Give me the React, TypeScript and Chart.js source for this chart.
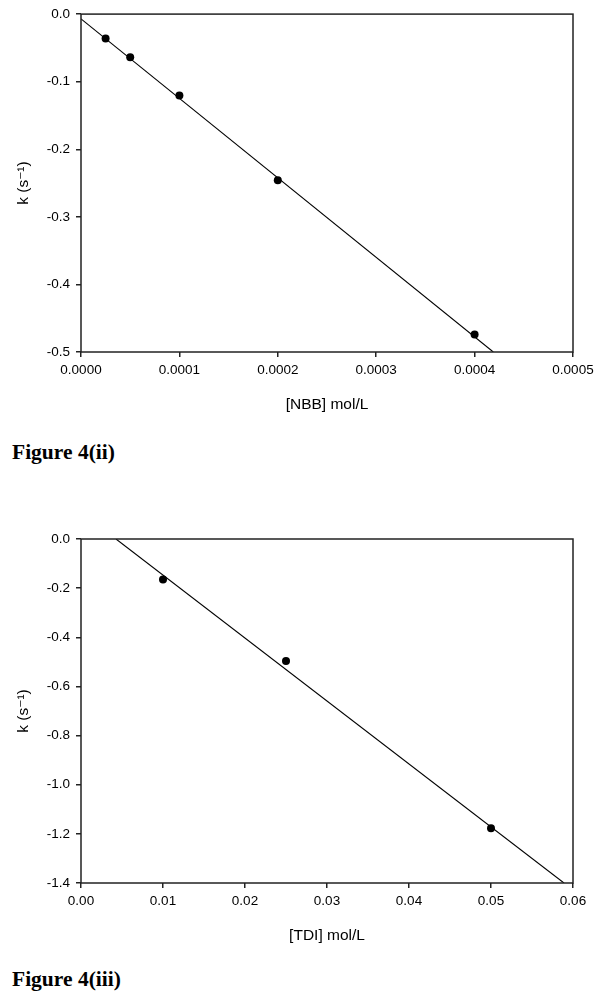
import React, { useEffect, useRef } from "react";
import { Chart, registerables } from "chart.js";

Chart.register(...registerables);

// ---- Figure 4(ii) data ----
const nbbConc = [0.000025, 0.00005, 0.0001, 0.0002, 0.0004];
const nbbK = [-0.036, -0.064, -0.1205, -0.246, -0.474];
const nbbFitConc = [0, 0.000419];
const nbbFitK = [-0.007, -0.5];
const nbbXTicks = [0, 0.0001, 0.0002, 0.0003, 0.0004, 0.0005];
const nbbYTicks = [0, -0.1, -0.2, -0.3, -0.4, -0.5];

// ---- Figure 4(iii) data ----
const tdiConc = [0.01, 0.025, 0.05];
const tdiK = [-0.165, -0.497, -1.177];
const tdiFitConc = [0.00427, 0.0589];
const tdiFitK = [0, -1.4];
const tdiXTicks = [0, 0.01, 0.02, 0.03, 0.04, 0.05, 0.06];
const tdiYTicks = [0, -0.2, -0.4, -0.6, -0.8, -1.0, -1.2, -1.4];

const SANS = "'Liberation Sans', Arial, 'DejaVu Sans', sans-serif";

const boxPlugin = {
  id: "boxFrame",
  afterDraw(chart: any) {
    const { ctx, chartArea } = chart;
    const { left, top, right, bottom } = chartArea;
    ctx.save();
    ctx.strokeStyle = "#222";
    ctx.lineWidth = 1.5;
    ctx.strokeRect(left, top, right - left, bottom - top);
    ctx.restore();
  },
};

type PanelProps = {
  top: number;
  height: number;
  padTop: number;
  xAxisHeight: number;
  xTitlePad: number;
  xs: number[];
  ys: number[];
  fitX: number[];
  fitY: number[];
  xTicks: number[];
  yTicks: number[];
  xDec: number;
  yDec: number;
  xTitle: string;
};

function Panel(p: PanelProps) {
  const ref = useRef<HTMLCanvasElement | null>(null);
  useEffect(() => {
    if (!ref.current) return;
    const tickFont = { family: SANS, size: 13.5 };
    const titleFont = { family: SANS, size: 15.5 };
    const grid = {
      drawOnChartArea: false,
      drawTicks: true,
      tickLength: 5,
      color: "#222",
      lineWidth: 1.5,
    };
    const chart = new Chart(ref.current, {
      type: "scatter",
      data: {
        datasets: [
          {
            type: "line",
            data: p.fitX.map((x, i) => ({ x, y: p.fitY[i] })),
            borderColor: "#000",
            borderWidth: 1.1,
            pointRadius: 0,
            fill: false,
            showLine: true,
          } as any,
          {
            type: "scatter",
            data: p.xs.map((x, i) => ({ x, y: p.ys[i] })),
            backgroundColor: "#000",
            borderColor: "#000",
            pointRadius: 4,
            pointBorderWidth: 0,
          },
        ],
      },
      options: {
        animation: false,
        responsive: false,
        maintainAspectRatio: false,
        layout: { padding: { top: p.padTop, right: 27, left: 0, bottom: 0 } },
        plugins: { legend: { display: false }, tooltip: { enabled: false } },
        scales: {
          x: {
            type: "linear",
            min: p.xTicks[0],
            max: p.xTicks[p.xTicks.length - 1],
            afterFit(s: any) {
              s.height = p.xAxisHeight;
            },
            afterBuildTicks(s: any) {
              s.ticks = p.xTicks.map((v) => ({ value: v }));
            },
            ticks: {
              font: tickFont,
              color: "#000",
              padding: 5,
              maxRotation: 0,
              autoSkip: false,
              callback: (v: any) => Number(v).toFixed(p.xDec),
            },
            grid,
            border: { display: false },
            title: {
              display: true,
              text: p.xTitle,
              font: titleFont,
              color: "#000",
              padding: { top: 0, bottom: p.xTitlePad },
            },
          },
          y: {
            type: "linear",
            min: p.yTicks[p.yTicks.length - 1],
            max: p.yTicks[0],
            afterFit(s: any) {
              s.width = 81;
            },
            afterBuildTicks(s: any) {
              s.ticks = p.yTicks.slice().reverse().map((v) => ({ value: v }));
            },
            ticks: {
              font: tickFont,
              color: "#000",
              padding: 6,
              autoSkip: false,
              callback: (v: any) => Number(v).toFixed(p.yDec),
            },
            grid,
            border: { display: false },
            title: {
              display: true,
              text: "k (s\u207B\u00B9)",
              font: titleFont,
              color: "#000",
              padding: { top: 14, bottom: 0 },
            },
          },
        },
      } as any,
      plugins: [boxPlugin],
    });
    return () => chart.destroy();
  }, []);
  return (
    <canvas
      ref={ref}
      width={600}
      height={p.height}
      style={{ position: "absolute", left: 0, top: p.top, width: 600, height: p.height }}
    />
  );
}

const captionStyle: React.CSSProperties = {
  position: "absolute",
  left: 12,
  fontFamily: "'Liberation Serif', 'Times New Roman', serif",
  fontWeight: "bold",
  fontSize: 21.5,
  lineHeight: "21.5px",
  color: "#000",
  whiteSpace: "nowrap",
};

export default function App() {
  return (
    <div
      style={{
        position: "absolute",
        left: 0,
        top: 0,
        width: 600,
        height: 996,
        overflow: "hidden",
        background: "#fff",
      }}
    >
      <Panel
        top={0}
        height={420}
        padTop={10}
        xAxisHeight={68}
        xTitlePad={5.7}
        xs={nbbConc}
        ys={nbbK}
        fitX={nbbFitConc}
        fitY={nbbFitK}
        xTicks={nbbXTicks}
        yTicks={nbbYTicks}
        xDec={4}
        yDec={1}
        xTitle="[NBB] mol/L"
      />
      <div style={{ ...captionStyle, top: 442 }}>Figure 4(ii)</div>
      <Panel
        top={500}
        height={460}
        padTop={39}
        xAxisHeight={77}
        xTitlePad={14.7}
        xs={tdiConc}
        ys={tdiK}
        fitX={tdiFitConc}
        fitY={tdiFitK}
        xTicks={tdiXTicks}
        yTicks={tdiYTicks}
        xDec={2}
        yDec={1}
        xTitle="[TDI] mol/L"
      />
      <div style={{ ...captionStyle, top: 969 }}>Figure 4(iii)</div>
    </div>
  );
}
